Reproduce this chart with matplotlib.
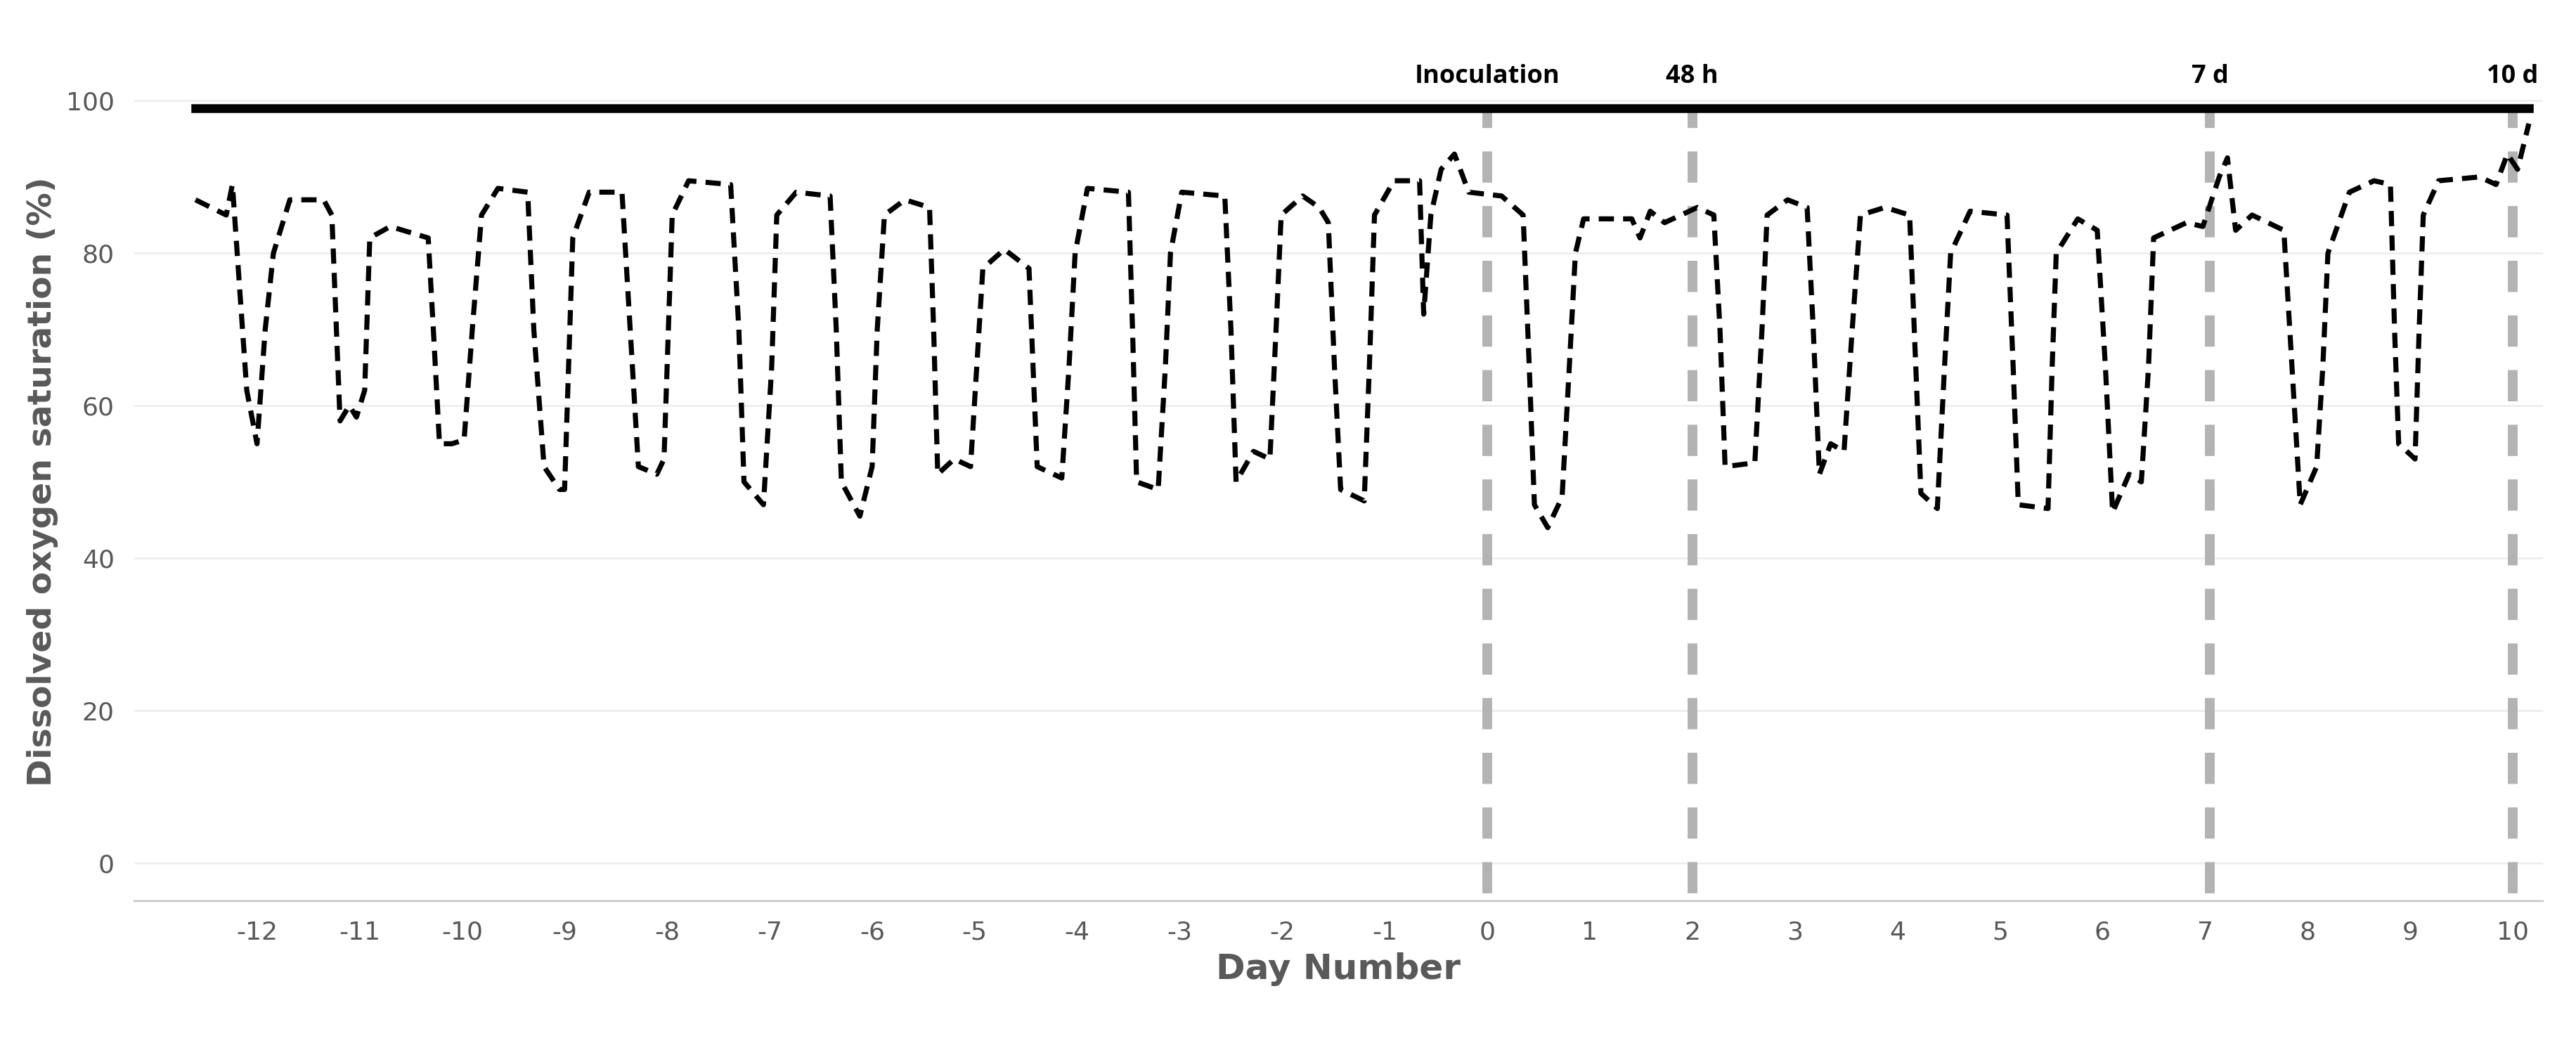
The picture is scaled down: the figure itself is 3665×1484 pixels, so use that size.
import matplotlib.pyplot as plt

plt.rcParams["axes.unicode_minus"] = False

# dissolved oxygen trace (day, % saturation)
days = [
    -12.6, -12.45, -12.3, -12.24, -12.1, -12.0, -11.92, -11.84, -11.68, -11.35,
    -11.27, -11.19, -11.1, -11.03, -10.95, -10.9, -10.7, -10.33, -10.28, -10.22,
    -10.1, -9.98, -9.9, -9.81, -9.65, -9.36, -9.3, -9.2, -9.05, -9.0,
    -8.92, -8.76, -8.44, -8.36, -8.28, -8.1, -8.03, -7.95, -7.79, -7.38,
    -7.3, -7.25, -7.06, -6.98, -6.93, -6.74, -6.41, -6.35, -6.3, -6.12,
    -6.0, -5.95, -5.88, -5.68, -5.44, -5.4, -5.36, -5.2, -5.04, -4.98,
    -4.92, -4.71, -4.47, -4.43, -4.39, -4.15, -4.08, -4.02, -3.9, -3.5,
    -3.46, -3.42, -3.21, -3.14, -3.09, -2.98, -2.56, -2.5, -2.45, -2.28,
    -2.12, -2.06, -2.01, -1.8, -1.64, -1.55, -1.49, -1.43, -1.2, -1.15,
    -1.1, -0.91, -0.66, -0.62, -0.55, -0.45, -0.32, -0.18, 0.14, 0.35,
    0.41, 0.46, 0.59, 0.73, 0.8, 0.86, 0.94, 1.41, 1.49, 1.59,
    1.73, 2.05, 2.21, 2.27, 2.32, 2.61, 2.68, 2.73, 2.93, 3.12,
    3.18, 3.24, 3.35, 3.48, 3.56, 3.64, 3.88, 4.12, 4.18, 4.23,
    4.39, 4.46, 4.52, 4.71, 5.07, 5.13, 5.18, 5.47, 5.51, 5.55,
    5.76, 5.95, 6.03, 6.1, 6.26, 6.38, 6.45, 6.5, 6.82, 6.98,
    7.14, 7.22, 7.3, 7.46, 7.77, 7.85, 7.93, 8.09, 8.15, 8.2,
    8.41, 8.65, 8.81, 8.85, 8.89, 9.05, 9.09, 9.13, 9.28, 9.68,
    9.84, 9.95, 10.05, 10.16,
]
do_sat = [
    87, 86, 85, 89, 62, 55, 70, 80, 87, 87,
    85, 58, 60, 58.5, 62, 82, 83.5, 82, 70, 55,
    55, 55.5, 70, 85, 88.5, 88, 70, 52, 49, 49,
    82, 88, 88, 70, 52, 51, 53, 85, 89.5, 89,
    70, 50, 47, 65, 85, 88, 87.5, 70, 50, 45.5,
    52, 70, 85, 87, 86, 70, 51, 53, 52, 65,
    78, 80.5, 78, 65, 52, 50.5, 65, 80, 88.5, 88,
    70, 50, 49, 65, 80, 88, 87.5, 70, 50, 54,
    53, 70, 85, 87.5, 86, 84, 65, 49, 47.5, 65,
    85, 89.5, 89.5, 72, 85, 91, 93, 88, 87.5, 85,
    65, 47, 44, 48, 65, 80, 84.5, 84.5, 82, 85.5,
    84, 86, 85, 70, 52, 52.5, 70, 85, 87, 86,
    70, 51, 55, 54, 70, 85, 86, 85, 65, 48.5,
    46.5, 65, 80, 85.5, 85, 65, 47, 46.5, 65, 80,
    84.5, 83, 65, 46, 51, 50, 65, 82, 84, 83.5,
    90, 92.5, 83, 85, 83, 65, 47, 52, 65, 80,
    88, 89.5, 89, 70, 55, 53, 70, 85, 89.5, 90,
    89, 93, 91, 97,
]

events = ["Inoculation", "48 h", "7 d", "10 d"]
event_days = [0, 2, 7.05, 10.0]

fig = plt.figure(figsize=(18.33, 7.42), dpi=200)
ax = fig.add_axes([0.052, 0.136, 0.935, 0.804])

for d in event_days:
    ax.plot([d, d], [-4, 99], color="#b3b3b3", lw=5, ls=(0, (3.2, 2.4)), zorder=1)
ax.plot([min(days), max(days)], [99, 99], color="black", lw=4.5, zorder=3)
ax.plot(days, do_sat, color="black", lw=2.6, ls=(0, (3, 1.8)), zorder=2)

for name, d in zip(events, event_days):
    ax.text(d, 101.5, name, ha="center", va="bottom", fontsize=13,
            fontweight="bold", family="Open Sans")

ax.set_xlim(-13.2, 10.3)
ax.set_ylim(-5, 105)
ax.set_xticks(range(-12, 11))
ax.set_yticks(range(0, 101, 20))
ax.tick_params(length=0, labelsize=13, colors="#595959", pad=10)
for s in ["top", "right", "left"]:
    ax.spines[s].set_visible(False)
ax.spines["bottom"].set_color("#bfbfbf")
ax.grid(axis="y", color="#eeeeee", lw=1)
ax.set_axisbelow(True)
ax.set_xlabel("Day Number", fontsize=18, fontweight="bold", color="#595959")
ax.set_ylabel("Dissolved oxygen saturation (%)", fontsize=17, fontweight="bold",
              color="#595959")

fig.savefig("out.png")
